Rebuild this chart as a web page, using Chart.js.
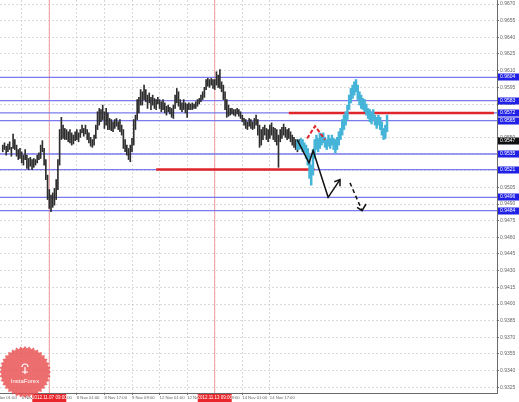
<!DOCTYPE html>
<html>
<head>
<meta charset="utf-8">
<script src="https://cdn.jsdelivr.net/npm/chart.js@4.4.0/dist/chart.umd.min.js"></script>
<style>
  html, body { margin: 0; padding: 0; background: #fff; }
</style>
</head>
<body>
<canvas id="chart" width="519" height="402"></canvas>
<script>
// hourly bars (black history), price high / low
const barHigh = [0.9543,0.9545,0.9542,0.9544,0.9546,0.9541,0.9553,0.9548,0.9543,0.9539,
  0.9540,0.9537,0.9534,0.9539,0.9534,0.9531,0.9532,0.9530,0.9531,0.9530,
  0.9534,0.9536,0.9543,0.9547,0.9540,0.9530,0.9516,0.9503,0.9498,0.9500,
  0.9504,0.9512,0.9530,0.9557,0.9568,0.9561,0.9558,0.9557,0.9555,0.9557,
  0.9554,0.9552,0.9555,0.9557,0.9554,0.9557,0.9561,0.9558,0.9561,0.9557,
  0.9554,0.9550,0.9548,0.9552,0.9561,0.9573,0.9576,0.9575,0.9579,0.9573,
  0.9576,0.9572,0.9567,0.9566,0.9564,0.9566,0.9567,0.9564,0.9566,0.9561,
  0.9557,0.9548,0.9543,0.9540,0.9543,0.9549,0.9566,0.9570,0.9584,0.9586,
  0.9593,0.9591,0.9597,0.9593,0.9588,0.9590,0.9586,0.9588,0.9585,0.9584,
  0.9586,0.9584,0.9582,0.9584,0.9581,0.9578,0.9579,0.9577,0.9576,0.9579,
  0.9588,0.9594,0.9591,0.9584,0.9581,0.9584,0.9581,0.9580,0.9581,0.9580,
  0.9581,0.9580,0.9582,0.9584,0.9585,0.9588,0.9591,0.9595,0.9602,0.9603,
  0.9602,0.9603,0.9602,0.9602,0.9609,0.9606,0.9611,0.9600,0.9597,0.9591,
  0.9584,0.9579,0.9576,0.9576,0.9575,0.9575,0.9576,0.9575,0.9573,0.9570,
  0.9567,0.9566,0.9564,0.9567,0.9566,0.9564,0.9567,0.9570,0.9566,0.9561,
  0.9557,0.9559,0.9561,0.9558,0.9557,0.9561,0.9563,0.9559,0.9558,0.9557,
  0.9552,0.9557,0.9559,0.9562,0.9559,0.9557,0.9558,0.9555,0.9552,0.9550,
  0.9548,0.9546,0.9548];
const barLow = [0.9537,0.9539,0.9534,0.9537,0.9539,0.9533,0.9540,0.9539,0.9533,0.9530,
  0.9531,0.9527,0.9525,0.9530,0.9522,0.9521,0.9524,0.9521,0.9523,0.9525,
  0.9527,0.9530,0.9531,0.9537,0.9525,0.9512,0.9494,0.9486,0.9483,0.9487,
  0.9489,0.9494,0.9503,0.9525,0.9548,0.9549,0.9548,0.9548,0.9546,0.9545,
  0.9543,0.9544,0.9547,0.9548,0.9546,0.9550,0.9554,0.9551,0.9553,0.9548,
  0.9545,0.9542,0.9541,0.9543,0.9549,0.9557,0.9561,0.9564,0.9566,0.9558,
  0.9561,0.9557,0.9557,0.9556,0.9555,0.9558,0.9560,0.9557,0.9555,0.9552,
  0.9540,0.9537,0.9534,0.9530,0.9528,0.9537,0.9543,0.9557,0.9566,0.9572,
  0.9579,0.9579,0.9584,0.9582,0.9576,0.9581,0.9575,0.9579,0.9576,0.9575,
  0.9580,0.9576,0.9573,0.9575,0.9572,0.9570,0.9573,0.9571,0.9568,0.9567,
  0.9576,0.9581,0.9578,0.9575,0.9573,0.9575,0.9572,0.9568,0.9575,0.9575,
  0.9575,0.9576,0.9576,0.9578,0.9580,0.9582,0.9584,0.9586,0.9593,0.9596,
  0.9595,0.9597,0.9594,0.9593,0.9597,0.9595,0.9594,0.9591,0.9584,0.9575,
  0.9568,0.9569,0.9570,0.9571,0.9570,0.9569,0.9571,0.9569,0.9567,0.9564,
  0.9561,0.9558,0.9557,0.9560,0.9558,0.9557,0.9558,0.9561,0.9552,0.9541,
  0.9543,0.9548,0.9552,0.9548,0.9546,0.9549,0.9552,0.9548,0.9546,0.9543,
  0.9523,0.9546,0.9549,0.9552,0.9550,0.9548,0.9549,0.9546,0.9543,0.9541,
  0.9539,0.9537,0.9540];

// cyan overlay bars, starting at bar 171
const overlayStart = 171;
const overlayHigh = [0.9548,0.9546,0.9549,0.9548,0.9545,0.9543,0.9540,0.9534,0.9525,0.9539,
  0.9548,0.9552,0.9549,0.9554,0.9552,0.9554,0.9550,0.9548,0.9552,0.9549,
  0.9552,0.9549,0.9548,0.9550,0.9555,0.9558,0.9566,0.9570,0.9573,0.9579,
  0.9588,0.9594,0.9597,0.9600,0.9602,0.9597,0.9591,0.9588,0.9585,0.9584,
  0.9580,0.9576,0.9575,0.9573,0.9575,0.9570,0.9568,0.9570,0.9568,0.9564,
  0.9558,0.9561,0.9570];
const overlayLow = [0.9539,0.9539,0.9540,0.9537,0.9537,0.9531,0.9525,0.9513,0.9507,0.9516,
  0.9531,0.9539,0.9537,0.9540,0.9543,0.9545,0.9541,0.9539,0.9542,0.9540,
  0.9543,0.9539,0.9536,0.9539,0.9543,0.9548,0.9552,0.9557,0.9561,0.9566,
  0.9575,0.9581,0.9585,0.9588,0.9591,0.9584,0.9579,0.9576,0.9575,0.9573,
  0.9570,0.9567,0.9564,0.9562,0.9566,0.9561,0.9558,0.9561,0.9557,0.9552,
  0.9548,0.9549,0.9555];

// horizontal levels (blue), red segments, vertical markers
const levels = [0.9604, 0.9583, 0.9572, 0.9565, 0.9535, 0.9521, 0.9496, 0.9484];
const redLevels = [0.9572, 0.9521];
const redFrom = [166, 89];
const redTo = [285, 181];
const markers = [27, 123];
const markerLabels = ['2012.11.07 09:00', '2012.11.13 09:00'];
const lastPrice = 0.9547;

// drawn arrows (bar index, price)
const solidX = [170.8, 177.7, 180.1, 188.8, 195.7];
const solidY = [0.9548, 0.9527, 0.9538, 0.9496, 0.9512];
const solidHeadX = [192.4, 195.7, 195.7];
const solidHeadY = [0.9510, 0.9512, 0.9506];
const dashX = [201.5, 208.5];
const dashY = [0.9509, 0.9484];
const dashHeadX = [205.6, 208.5, 210.8];
const dashHeadY = [0.9487, 0.9484, 0.9490];
const redArrowX = [176.6, 181.2, 187.0];
const redArrowY = [0.9549, 0.9560, 0.9548];

// axes
const timeTicks = [-5, 11, 27, 43, 59, 75, 91, 107, 123, 139, 155];
const timeLabels = ['6 Nov 01:00', '6 Nov 17:00', '7 Nov 09:00', '8 Nov 01:00', '8 Nov 17:00',
  '9 Nov 09:00', '12 Nov 01:00', '12 Nov 17:00', '13 Nov 09:00', '14 Nov 01:00', '14 Nov 17:00'];
const priceTicks = [0.9670, 0.9655, 0.9640, 0.9625, 0.9610, 0.9595, 0.9580, 0.9565, 0.9550, 0.9535,
  0.9520, 0.9505, 0.9490, 0.9475, 0.9460, 0.9445, 0.9430, 0.9415, 0.9400, 0.9385,
  0.9370, 0.9355, 0.9340, 0.9325];

const xMin = -1.6, xMax = 286.8;
const yMin = 0.93199, yMax = 0.96736;

function lineSet(xs, ys, color, width, dash, order) {
  return {
    type: 'line',
    data: xs.map((x, k) => ({ x: x, y: ys[k] })),
    borderColor: color,
    borderWidth: width,
    borderDash: dash || [],
    pointRadius: 0,
    fill: false,
    tension: 0,
    order: order
  };
}

const datasets = [];
levels.forEach(v => datasets.push(lineSet([xMin, xMax], [v, v], '#7a7aee', 1.3, null, 30)));
markers.forEach(m => datasets.push(lineSet([m, m], [yMin, yMax], '#f09a9a', 1, null, 31)));
redLevels.forEach((v, k) => datasets.push(lineSet([redFrom[k], redTo[k]], [v, v], '#e0262b', 2.5, null, 25)));

datasets.push({
  type: 'bar',
  data: barHigh.map((h, k) => ({ x: k, y: [barLow[k], h] })),
  backgroundColor: '#2e2e2e',
  barThickness: 1,
  grouped: false,
  order: 20
});
datasets.push({
  type: 'bar',
  data: overlayHigh.map((h, k) => ({ x: overlayStart + k, y: [overlayLow[k], h] })),
  backgroundColor: '#45b4d8',
  barThickness: 1.8,
  grouped: false,
  order: 19
});

datasets.push(lineSet(solidX, solidY, '#111', 1.5, null, 2));
datasets.push(lineSet(solidHeadX, solidHeadY, '#111', 1.5, null, 2));
datasets.push(lineSet(dashX, dashY, '#111', 1.5, [4, 3], 2));
datasets.push(lineSet(dashHeadX, dashHeadY, '#111', 1.5, null, 2));
datasets.push(lineSet(redArrowX, redArrowY, '#e0262b', 2, [4, 2], 2));

const terminalMarks = {
  id: 'terminalMarks',
  afterDraw(chart) {
    const c = chart.ctx;
    const xs = chart.scales.x, ys = chart.scales.y;
    const area = chart.chartArea;
    c.save();
    c.font = '5px "Liberation Sans"';
    c.textBaseline = 'middle';
    c.textAlign = 'left';

    // level price boxes
    levels.forEach(v => {
      const py = Math.round(ys.getPixelForValue(v));
      c.fillStyle = '#2020e6';
      c.fillRect(area.right + 1, py - 3.5, 21, 7);
      c.fillStyle = '#fff';
      c.fillText(v.toFixed(4), area.right + 3, py);
    });
    const lp = Math.round(ys.getPixelForValue(lastPrice));
    c.fillStyle = '#111';
    c.fillRect(area.right + 1, lp - 3.5, 21, 7);
    c.fillStyle = '#fff';
    c.fillText(lastPrice.toFixed(4), area.right + 3, lp);

    // time markers
    c.textAlign = 'center';
    c.font = '4.5px "Liberation Sans"';
    markers.forEach((m, k) => {
      const px = xs.getPixelForValue(m);
      c.fillStyle = '#e8262b';
      c.fillRect(px - 17, area.bottom + 1, 34, 8);
      c.fillStyle = '#fff';
      c.fillText(markerLabels[k], px, area.bottom + 5);
    });

    // watermark
    const cx = 25, cy = 372, teeth = 36;
    c.beginPath();
    for (let k = 0; k <= teeth * 2; k++) {
      const a = k * Math.PI / teeth;
      const r = k % 2 ? 23.5 : 26;
      c.lineTo(cx + r * Math.cos(a), cy + r * Math.sin(a));
    }
    c.closePath();
    c.fillStyle = 'rgba(232, 78, 78, 0.82)';
    c.fill();
    c.strokeStyle = '#fff';
    c.lineWidth = 1.2;
    c.beginPath();
    c.arc(cx, cy - 5, 3, Math.PI, 0);
    c.moveTo(cx, cy - 5);
    c.lineTo(cx, cy + 2);
    c.moveTo(cx - 3, cy);
    c.lineTo(cx + 3, cy);
    c.stroke();
    c.fillStyle = '#fff';
    c.font = '6px "Liberation Sans"';
    c.fillText('InstaForex', cx, cy + 9);
    c.restore();
  }
};

new Chart(document.getElementById('chart'), {
  type: 'bar',
  data: { datasets: datasets },
  options: {
    responsive: false,
    animation: false,
    devicePixelRatio: 1,
    events: [],
    layout: { padding: 0 },
    plugins: { legend: { display: false }, tooltip: { enabled: false } },
    scales: {
      x: {
        type: 'linear',
        min: xMin,
        max: xMax,
        offset: false,
        afterBuildTicks: s => { s.ticks = timeTicks.map(v => ({ value: v })); },
        afterFit: s => { s.height = 9; s.paddingLeft = 0; s.paddingRight = 0; },
        grid: { color: 'rgba(195,205,195,0.7)', offset: false, tickLength: 2, tickColor: '#777' },
        border: { color: '#6a6a6a', width: 1, dash: [2, 2] },
        ticks: {
          autoSkip: false,
          maxRotation: 0,
          align: 'start',
          padding: 0,
          color: '#666',
          font: { size: 4.2, family: 'Liberation Sans' },
          callback: v => timeLabels[timeTicks.indexOf(v)]
        }
      },
      y: {
        position: 'right',
        min: yMin,
        max: yMax,
        afterBuildTicks: s => { s.ticks = priceTicks.map(v => ({ value: v })); },
        afterFit: s => { s.width = 22; s.paddingTop = 0; s.paddingBottom = 0; },
        grid: { color: 'rgba(195,205,195,0.7)', tickLength: 2, tickColor: '#777' },
        border: { color: '#6a6a6a', width: 1, dash: [2, 2] },
        ticks: {
          padding: 1,
          color: '#666',
          font: { size: 5, family: 'Liberation Sans' },
          callback: v => v.toFixed(4)
        }
      }
    }
  },
  plugins: [terminalMarks]
});
</script>
</body>
</html>
